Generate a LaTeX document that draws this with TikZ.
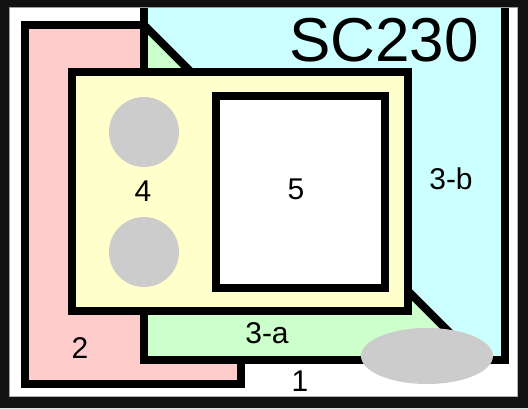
\documentclass[tikz,border=0pt]{standalone}
\usepackage{fontspec}
\setmainfont{Liberation Sans}
\definecolor{pinkpart}{HTML}{FFCCCC}
\definecolor{greenpart}{HTML}{CCFFCC}
\definecolor{cyanpart}{HTML}{CCFFFF}
\definecolor{yellowpart}{HTML}{FFFFCC}
\definecolor{holegray}{HTML}{CCCCCC}
\definecolor{framedark}{HTML}{111111}
\begin{document}
\begin{tikzpicture}[x=1pt,y=-1pt,
  every node/.style={font=\fontsize{30}{30}\selectfont,inner sep=0pt},
  part/.style={draw=black,line width=8pt},
  hole/.style={fill=holegray}]
  \useasboundingbox (0,0) rectangle (528,408);
  \fill[white] (0,0) rectangle (528,408);
  % 2
  \draw[part,fill=pinkpart] (25,25) rectangle (241,384);
  % 3-a / 3-b
  \fill[cyanpart] (144,3) rectangle (505,360);
  \fill[greenpart] (144,25) -- (191,72) -- (408,72) -- (408,291) -- (477,360)
    -- (144,360) -- cycle;
  \draw[line width=8pt] (144,25) -- (191,72) (408,291) -- (477,360);
  \draw[part] (144,3) rectangle (505,360);
  % 4
  \draw[part,fill=yellowpart] (72,72) rectangle (408,311);
  \fill[hole] (144,132) circle (35);
  \fill[hole] (144,252) circle (35);
  % 5
  \draw[part,fill=white] (216,96) rectangle (385,288);
  \fill[hole] (427,356) ellipse [x radius=66,y radius=28];
  % labels
  \node (title) at (384,40) {\fontsize{62}{62}\selectfont SC230};
  \node (l1) at (300,381) {1};
  \node (l2) at (80,348) {2};
  \node (l3a) at (267,333) {3-a};
  \node (l3b) at (451,179) {3-b};
  \node (l4) at (143,191) {4};
  \node (l5) at (296,189) {5};
  % frame
  \draw[gray!60,line width=1pt] (9.5,7.5) rectangle (517.5,396.5);
  \fill[framedark,even odd rule] (0,0) rectangle (528,408) (9,7) rectangle (518,397);
\end{tikzpicture}
\end{document}
